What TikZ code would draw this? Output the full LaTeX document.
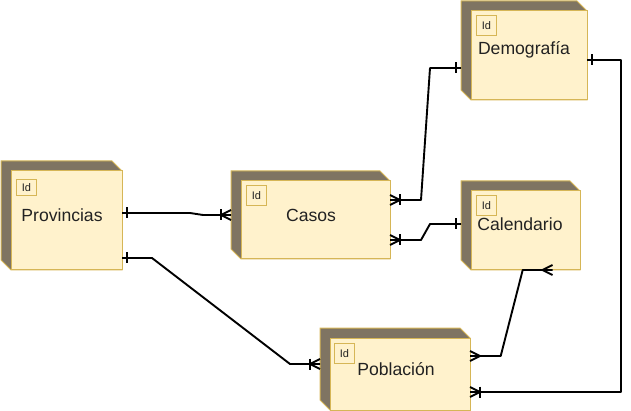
\documentclass[tikz,border=0pt]{standalone}
\usepackage{fontspec}
\setmainfont{Liberation Sans}
\definecolor{boxfill}{HTML}{FFF2CC}
\definecolor{boxline}{HTML}{D6B656}
\definecolor{boxside}{HTML}{7F7462}
\definecolor{txt}{HTML}{222222}
\tikzset{
  front/.style={draw=boxline, fill=boxfill, line width=1pt, inner sep=0pt, outer sep=0pt, anchor=north west},
  idbox/.style={draw=boxline, fill=boxfill, line width=0.8pt, inner sep=0pt, minimum width=20pt, anchor=north west,
    font=\fontsize{11}{12}\selectfont, text=txt},
  title/.style={font=\fontsize{17.6}{20}\selectfont, text=txt, inner sep=0pt},
  rel/.style={line width=1.9pt, line join=round},
  erbar/.pic={\draw[rel] (5,-5.5) -- (5,5.5);},
  ercrow/.pic={\draw[rel] (0,-5) -- (10,0) -- (0,5);},
  ercrowbar/.pic={\draw[rel] (0,-5) -- (10,0) -- (0,5); \draw[rel] (10,-5.5) -- (10,5.5);}
}
\newcommand\erentity[5]{%
  \fill[boxside, draw=boxline, line width=1pt] (#2,#3) -- (#4-10,#3) -- (#4,#3+10) -- (#4,#5) -- (#2+10,#5) -- (#2,#5-10) -- cycle;
  \node[front, minimum width={(#4-#2-10)*1pt}, minimum height={(#5-#3-10)*1pt}] (#1) at (#2+10,#3+10) {};
}
\begin{document}
\begin{tikzpicture}[x=1pt, y=-1pt]
\useasboundingbox (0,0) rectangle (631,411);
% entities
\erentity{prov}{1}{161}{122}{270}
\node[idbox, minimum height=16pt] (provid) at (16,179) {Id};
\node[title] (provt) at (62,215) {Provincias};

\erentity{casos}{231}{171}{390}{259}
\node[idbox, minimum height=20pt] (casosid) at (246,185) {Id};
\node[title] (casost) at (311,215) {Casos};

\erentity{demo}{461}{1}{587}{100}
\node[idbox, minimum height=20pt] (demoid) at (476,15) {Id};
\node[title] (demot) at (524,50) {Demografía};

\erentity{cal}{461}{181}{580}{270}
\node[idbox, minimum height=20pt] (calid) at (476,195) {Id};
\node[title] (calt) at (520,224) {Calendario};

\erentity{pob}{320}{328}{470}{410}
\node[idbox, minimum height=20pt] (pobid) at (334,343) {Id};
\node[title] (pobt) at (396,369) {Población};

% connectors
% Provincias -> Casos
\draw[rel] ([yshift=7.5pt]prov.east) -- (190,213) -- (203,215) -- ([xshift=-10pt,yshift=5pt]casos.west);
\pic at ([yshift=7.5pt]prov.east) {erbar};
\pic[xscale=-1] at ([xshift=-10pt,yshift=5pt]casos.west) {ercrowbar};
% Provincias -> Poblacion
\draw[rel] ([yshift=-37.5pt]prov.east) -- (152,258) -- (290,364) -- ([xshift=-10pt,yshift=10pt]pob.west);
\pic at ([yshift=-37.5pt]prov.east) {erbar};
\pic[xscale=-1] at ([xshift=-10pt,yshift=10pt]pob.west) {ercrowbar};
% Casos -> Demografia
\draw[rel] ([yshift=20pt]casos.east) -- (421,200) -- (430,68) -- ([xshift=-10pt,yshift=-12.5pt]demo.west);
\pic at ([yshift=20pt]casos.east) {ercrowbar};
\pic[xscale=-1] at ([xshift=-10pt,yshift=-12.5pt]demo.west) {erbar};
% Casos -> Calendario
\draw[rel] ([yshift=-20pt]casos.east) -- (421,240) -- (430,224) -- ([xshift=-10pt,yshift=6.5pt]cal.west);
\pic at ([yshift=-20pt]casos.east) {ercrowbar};
\pic[xscale=-1] at ([xshift=-10pt,yshift=6.5pt]cal.west) {erbar};
% Poblacion -> Calendario
\draw[rel] ([yshift=18pt]pob.east) -- (500.7,356) -- (522.7,270) -- ([xshift=27pt]cal.south);
\pic at ([yshift=18pt]pob.east) {ercrow};
\pic[xscale=-1] at ([xshift=27pt]cal.south) {ercrow};
% Demografia -> Poblacion
\draw[rel] ([yshift=-4.5pt]demo.east) -- (621,60) -- (621,392) -- ([yshift=-18pt]pob.east);
\pic at ([yshift=-4.5pt]demo.east) {erbar};
\pic at ([yshift=-18pt]pob.east) {ercrowbar};
\end{tikzpicture}
\end{document}
